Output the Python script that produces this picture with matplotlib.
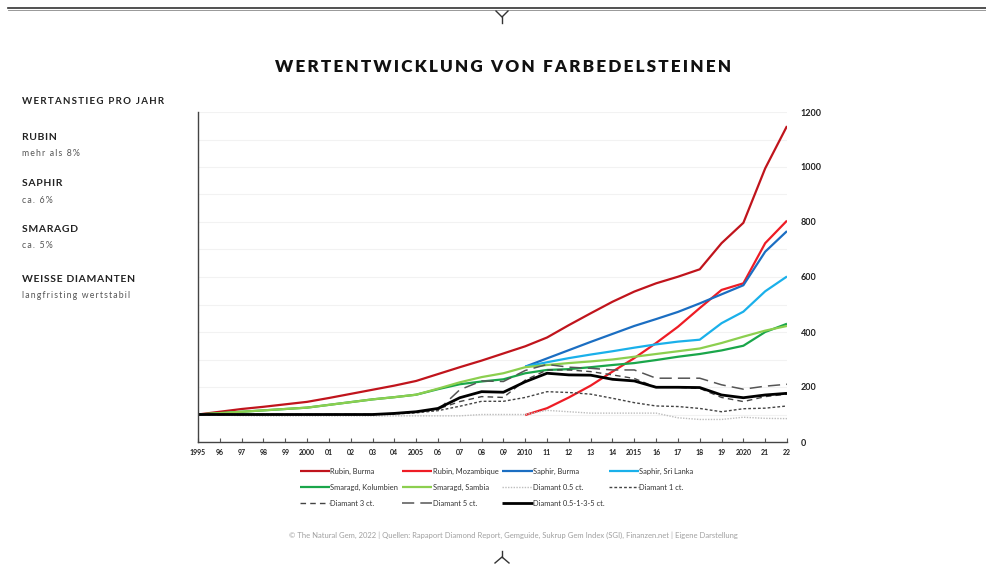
import matplotlib
matplotlib.use('Agg')
import matplotlib.pyplot as plt
from matplotlib.lines import Line2D

plt.rcParams['font.family'] = ['Lato', 'DejaVu Sans']

years = list(range(1995, 2023))
years_2010 = list(range(2010, 2023))

year_labels = ['1995', '96', '97', '98', '99', '2000', '01', '02', '03', '04',
               '2005', '06', '07', '08', '09', '2010', '11', '12', '13', '14',
               '2015', '16', '17', '18', '19', '2020', '21', '22']

rubin_burma = [100, 110, 120, 128, 137, 146, 160, 175, 190, 205, 222, 247, 272, 296,
               322, 348, 380, 425, 468, 510, 547, 577, 601, 628, 723, 797, 995, 1149]
rubin_mozambique = [98, 123, 162, 205, 256, 305, 360, 419, 487, 553, 577, 723, 805]
saphir_burma = [274, 304, 334, 364, 393, 422, 447, 473, 504, 537, 570, 692, 767]
saphir_srilanka = [274, 290, 305, 318, 330, 343, 355, 365, 372, 432, 474, 548, 602]
smaragd_kolumbien = [100, 105, 110, 115, 120, 125, 135, 145, 155, 163, 172, 192, 210, 220,
                     228, 250, 262, 265, 272, 280, 287, 298, 310, 320, 333, 350, 400, 430]
smaragd_sambia = [100, 105, 110, 115, 120, 125, 135, 145, 155, 163, 172, 194, 217, 236,
                  250, 272, 280, 287, 293, 300, 310, 320, 330, 340, 360, 383, 405, 422]
diamant_05 = [100, 98, 96, 95, 95, 95, 95, 95, 95, 95, 95, 95, 95, 100,
              100, 100, 115, 110, 105, 105, 105, 105, 88, 82, 82, 90, 86, 85]
diamant_1 = [100, 100, 100, 100, 100, 100, 100, 100, 100, 102, 106, 114, 130, 148,
             148, 162, 183, 180, 174, 159, 143, 131, 129, 122, 110, 121, 123, 131]
diamant_3 = [100, 100, 100, 100, 100, 100, 100, 100, 100, 103, 110, 120, 147, 165,
             162, 225, 262, 262, 256, 244, 231, 199, 199, 195, 162, 147, 165, 174]
diamant_5 = [100, 100, 100, 100, 100, 100, 100, 100, 100, 103, 110, 116, 190, 222,
             220, 260, 282, 272, 268, 262, 262, 232, 232, 232, 208, 192, 203, 210]
diamant_mix = [100, 100, 100, 100, 100, 100, 100, 100, 100, 104, 110, 122, 161, 183,
               181, 219, 250, 244, 243, 228, 222, 199, 199, 198, 171, 161, 171, 177]

series = [
    ('Rubin, Burma', years, rubin_burma, dict(color='#c0141c', lw=1.6)),
    ('Rubin, Mozambique', years_2010, rubin_mozambique, dict(color='#ee1c25', lw=1.6)),
    ('Saphir, Burma', years_2010, saphir_burma, dict(color='#1b6ec2', lw=1.6)),
    ('Saphir, Sri Lanka', years_2010, saphir_srilanka, dict(color='#1ab0ea', lw=1.6)),
    ('Smaragd, Kolumbien', years, smaragd_kolumbien, dict(color='#1aa64a', lw=1.6)),
    ('Smaragd, Sambia', years, smaragd_sambia, dict(color='#8ccf4f', lw=1.6)),
    ('Diamant 0.5 ct.', years, diamant_05, dict(color='#bdbdbd', lw=1.0, ls=(0, (1, 1)))),
    ('Diamant 1 ct.', years, diamant_1, dict(color='#444444', lw=1.0, ls=(0, (2, 1.5)))),
    ('Diamant 3 ct.', years, diamant_3, dict(color='#444444', lw=1.0, ls=(0, (4, 3)))),
    ('Diamant 5 ct.', years, diamant_5, dict(color='#555555', lw=1.1, ls=(0, (8, 4)))),
    ('Diamant 0.5-1-3-5 ct.', years, diamant_mix, dict(color='#000000', lw=2.0)),
]


def spaced(s, gap='\u200a'):
    # crude letter spacing for the caps headings
    return gap.join(s)


fig = plt.figure(figsize=(9.87, 5.64), dpi=100)
ax = fig.add_axes([198 / 987, 1 - 442 / 564, 589 / 987, 330 / 564])

handles = []
for name, xs, ys, style in series:
    h, = ax.plot(xs, ys, label=name, solid_capstyle='butt', **style)
    handles.append(h)

ax.set_xlim(1995, 2022)
ax.set_ylim(0, 1200)
ax.set_xticks(years)
ax.set_xticklabels(year_labels, fontsize=5, fontweight='bold', color='#222222')
ax.tick_params(axis='x', direction='in', length=3, width=0.8, color='#555555', pad=5)

ax.yaxis.tick_right()
ax.set_yticks(range(0, 1201, 200))
ax.set_yticks(range(100, 1200, 200), minor=True)
ax.tick_params(axis='y', which='both', length=0, pad=10, labelsize=6.5, labelcolor='#222222')
for lab in ax.get_yticklabels():
    lab.set_fontweight('bold')
ax.grid(axis='y', which='both', color='#f2f2f2', lw=0.8)
ax.set_axisbelow(True)

for s in ['top', 'right']:
    ax.spines[s].set_visible(False)
for s in ['left', 'bottom']:
    ax.spines[s].set_color('#444444')
    ax.spines[s].set_linewidth(1.0)

# legend laid out row by row
order = [0, 4, 8, 1, 5, 9, 2, 6, 10, 3, 7]
fig.legend([handles[i] for i in order], [series[i][0] for i in order],
           loc='upper left', bbox_to_anchor=(293 / 987, 1 - 461 / 564), ncol=4,
           frameon=False, prop={'size': 5.4}, labelcolor='#333333',
           handlelength=4.0, handletextpad=0.1, columnspacing=0.5, labelspacing=1.2)

# title and side text
fig.text(503 / 987, 1 - 67 / 564, spaced('WERTENTWICKLUNG VON FARBEDELSTEINEN', '\u2009'),
         ha='center', va='center', fontsize=12.3, fontweight='heavy', color='#111111')

fig.text(22 / 987, 1 - 101 / 564, spaced('WERTANSTIEG PRO JAHR', '\u2009'), ha='left', va='center',
         fontsize=7, fontweight='bold', color='#222222')
side = [('RUBIN', 'mehr als 8%', 138),
        ('SAPHIR', 'ca. 6%', 184),
        ('SMARAGD', 'ca. 5%', 229),
        ('WEISSE DIAMANTEN', 'langfristing wertstabil', 280)]
for head, sub, y in side:
    fig.text(22 / 987, 1 - y / 564, spaced(head), ha='left', va='center',
             fontsize=7.5, fontweight='bold', color='#222222')
    fig.text(22 / 987, 1 - (y + 16) / 564, spaced(sub, '\u2009'), ha='left', va='center',
             fontsize=6.3, color='#555555')

fig.text(513 / 987, 1 - 535 / 564,
         '© The Natural Gem, 2022 | Quellen: Rapaport Diamond Report, Gemguide, '
         'Sukrup Gem Index (SGI), Finanzen.net | Eigene Darstellung',
         ha='center', va='center', fontsize=5.5, color='#a0a0a0')

# decorative rule at the top and small markers
fig.add_artist(Line2D([8 / 987, 1], [1 - 8 / 564, 1 - 8 / 564], color='#333333', lw=1.2))
fig.add_artist(Line2D([8 / 987, 1], [1 - 10 / 564, 1 - 10 / 564], color='#888888', lw=0.6))
cx = 502 / 987
fig.add_artist(Line2D([cx - 6 / 987, cx, cx + 6 / 987], [1 - 11 / 564, 1 - 17 / 564, 1 - 11 / 564],
                      color='#333333', lw=1.0))
fig.add_artist(Line2D([cx, cx], [1 - 17 / 564, 1 - 23 / 564], color='#333333', lw=1.0))
fig.add_artist(Line2D([cx, cx], [1 - 551 / 564, 1 - 557 / 564], color='#333333', lw=1.0))
fig.add_artist(Line2D([cx - 7 / 987, cx, cx + 7 / 987], [1 - 563 / 564, 1 - 557 / 564, 1 - 563 / 564],
                      color='#333333', lw=1.0))

fig.savefig('out.png', dpi=100)
